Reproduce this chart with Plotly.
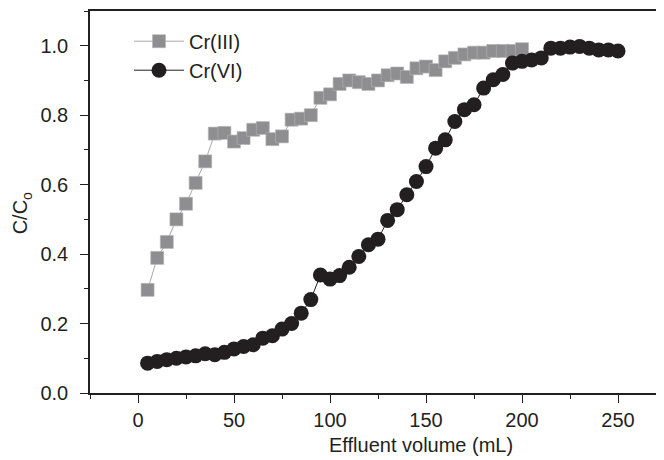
import plotly.graph_objects as go

volume_cr3 = [5, 10, 15, 20, 25, 30, 35, 40, 45, 50, 55, 60, 65, 70, 75, 80, 85, 90, 95, 100,
              105, 110, 115, 120, 125, 130, 135, 140, 145, 150, 155, 160, 165, 170, 175, 180,
              185, 190, 195, 200]
cc0_cr3 = [0.297, 0.389, 0.435, 0.50, 0.545, 0.605, 0.667, 0.747, 0.749, 0.724, 0.734, 0.758,
           0.763, 0.731, 0.739, 0.787, 0.79, 0.80, 0.85, 0.86, 0.89, 0.90, 0.895, 0.89, 0.90,
           0.915, 0.92, 0.91, 0.935, 0.94, 0.93, 0.955, 0.965, 0.975, 0.98, 0.98, 0.985,
           0.985, 0.985, 0.99]

volume_cr6 = [5, 10, 15, 20, 25, 30, 35, 40, 45, 50, 55, 60, 65, 70, 75, 80, 85, 90, 95, 100,
              105, 110, 115, 120, 125, 130, 135, 140, 145, 150, 155, 160, 165, 170, 175, 180,
              185, 190, 195, 200, 205, 210, 215, 220, 225, 230, 235, 240, 245, 250]
cc0_cr6 = [0.086, 0.091, 0.096, 0.10, 0.104, 0.107, 0.113, 0.11, 0.117, 0.127, 0.134, 0.139,
           0.158, 0.165, 0.184, 0.20, 0.23, 0.269, 0.34, 0.328, 0.338, 0.362, 0.393, 0.427,
           0.443, 0.497, 0.528, 0.571, 0.609, 0.652, 0.705, 0.729, 0.782, 0.816, 0.830, 0.878,
           0.902, 0.917, 0.950, 0.955, 0.959, 0.965, 0.993, 0.993, 0.996, 0.998, 0.993, 0.988,
           0.988, 0.985]

x_ticks = [0, 50, 100, 150, 200, 250]
y_ticks = [0.0, 0.2, 0.4, 0.6, 0.8, 1.0]
y_tick_labels = ["0.0", "0.2", "0.4", "0.6", "0.8", "1.0"]
x_title = "Effluent volume (mL)"
y_title = "C/C<sub>o</sub>"

INK = "#231f20"
GRAY = "#8e8e90"
FONT = "Liberation Sans, Arial, sans-serif"

fig = go.Figure()
fig.add_trace(go.Scatter(
    x=volume_cr3, y=cc0_cr3, name="Cr(III)", mode="lines+markers",
    line=dict(color="#a8a8aa", width=1),
    marker=dict(symbol="square", size=13, color=GRAY, line=dict(color="#b5b5b7", width=0.6)),
))
fig.add_trace(go.Scatter(
    x=volume_cr6, y=cc0_cr6, name="Cr(VI)", mode="lines+markers",
    line=dict(color=INK, width=1),
    marker=dict(symbol="circle", size=15, color=INK, line=dict(width=0)),
))

# page body has an 8px default margin, so margins are offset by 8px
fig.update_layout(
    width=664, height=460,
    margin=dict(l=82, r=0, t=3, b=75),
    paper_bgcolor="white", plot_bgcolor="white",
    font=dict(family=FONT, size=20, color=INK),
    showlegend=True,
    legend=dict(x=0.067, y=0.972, xanchor="left", yanchor="top",
                bgcolor="rgba(0,0,0,0)", font=dict(size=20, color=INK),
                itemwidth=50),
    annotations=[
        dict(text=x_title, xref="paper", yref="paper", x=0.569, y=-0.135,
             xanchor="center", yanchor="middle", showarrow=False,
             font=dict(size=20, color=INK)),
        dict(text=y_title, xref="paper", yref="paper", x=-0.117, y=0.47,
             xanchor="center", yanchor="middle", showarrow=False, textangle=-90,
             font=dict(size=20, color=INK)),
    ],
)
fig.update_xaxes(
    range=[-25, 278.1], showgrid=False, zeroline=False,
    showline=True, linecolor=INK, linewidth=1.5, mirror=True,
    tickmode="array", tickvals=x_ticks, ticktext=[str(v) for v in x_ticks],
    ticks="outside", ticklen=8, tickwidth=1, tickcolor=INK,
    minor=dict(dtick=25, tick0=0, ticks="outside", ticklen=4, tickwidth=1, tickcolor=INK),
    tickfont=dict(size=20, color=INK),
    ticklabelstandoff=0,
)
fig.update_yaxes(
    range=[0, 1.1], showgrid=False, zeroline=False,
    showline=True, linecolor=INK, linewidth=1.5,
    tickmode="array", tickvals=y_ticks, ticktext=y_tick_labels,
    ticks="outside", ticklen=8, tickwidth=1, tickcolor=INK,
    minor=dict(dtick=0.1, tick0=0, ticks="outside", ticklen=4, tickwidth=1, tickcolor=INK),
    tickfont=dict(size=20, color=INK),
    ticklabelstandoff=8,
)

fig.write_html("out.html")
